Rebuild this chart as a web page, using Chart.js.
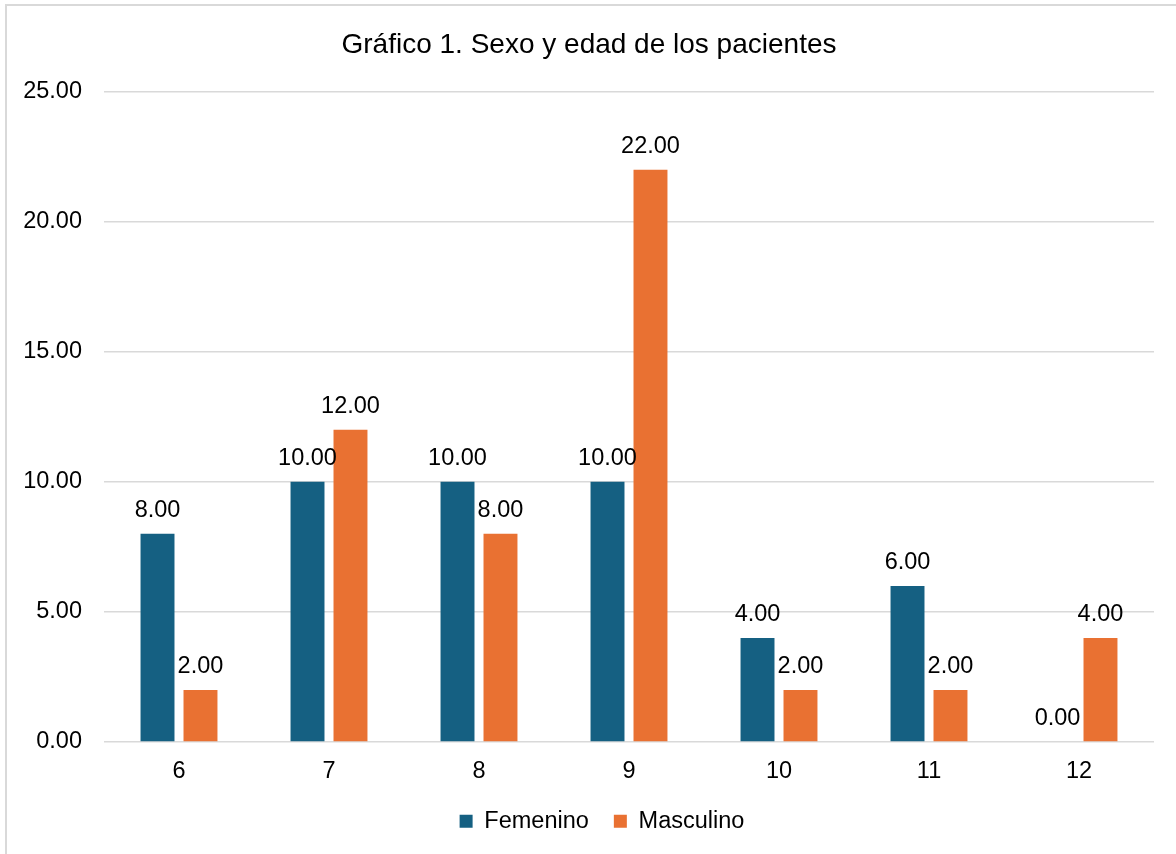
<!DOCTYPE html>
<html lang="es">
<head>
<meta charset="utf-8">
<title>Gráfico 1. Sexo y edad de los pacientes</title>
<script src="https://cdn.jsdelivr.net/npm/chart.js@4.4.1/dist/chart.umd.min.js"></script>
<style>
  html, body { margin: 0; padding: 0; background: #ffffff; overflow: hidden; }
  #frame {
    position: absolute; left: 5px; top: 4px;
    width: 1300px; height: 1000px;
    border: 2px solid #d9d9d9; box-sizing: border-box;
  }
  #wrap { position: absolute; left: 0; top: 0; width: 1176px; height: 854px; }
</style>
</head>
<body>
<div id="frame"></div>
<div id="wrap"><canvas id="chart" width="1176" height="854"></canvas></div>
<script>
// Ages of the patients (x axis)
const categories = ['6', '7', '8', '9', '10', '11', '12'];
// Number of patients by sex for each age
const femenino = [8, 10, 10, 10, 4, 6, 0];
const masculino = [2, 12, 8, 22, 2, 2, 4];
// Value axis range
const yMin = 0;
const yMax = 25;
const yStep = 5;

const FONT = '"Liberation Sans", Arial, Helvetica, sans-serif';
const TEXT = '#000000';
const SIZE = 23.5;

// Writes each bar's value (two decimals) above it
const valueLabels = {
  id: 'valueLabels',
  afterDatasetsDraw(chart) {
    const ctx = chart.ctx;
    ctx.save();
    ctx.font = SIZE + 'px ' + FONT;
    ctx.fillStyle = TEXT;
    ctx.textAlign = 'center';
    ctx.textBaseline = 'middle';
    chart.data.datasets.forEach((ds, i) => {
      const meta = chart.getDatasetMeta(i);
      meta.data.forEach((bar, j) => {
        ctx.fillText(Number(ds.data[j]).toFixed(2), bar.x, bar.y - 23);
      });
    });
    ctx.restore();
  }
};

// Nudges the legend row slightly to the right
const legendNudge = {
  id: 'legendNudge',
  afterLayout(chart) {
    if (chart.legend) {
      chart.legend.left += 13;
      chart.legend.right += 13;
    }
  }
};

new Chart(document.getElementById('chart'), {
  type: 'bar',
  data: {
    labels: categories,
    datasets: [
      {
        label: 'Femenino',
        data: femenino,
        backgroundColor: '#156082',
        categoryPercentage: 0.573,
        barPercentage: 0.79
      },
      {
        label: 'Masculino',
        data: masculino,
        backgroundColor: '#E97132',
        categoryPercentage: 0.573,
        barPercentage: 0.79
      }
    ]
  },
  options: {
    responsive: false,
    animation: false,
    layout: { padding: { left: 24, right: 22, top: 0, bottom: 11 } },
    plugins: {
      title: {
        display: true,
        text: 'Gráfico 1. Sexo y edad de los pacientes',
        color: TEXT,
        font: { family: FONT, size: 28, weight: 'normal' },
        padding: { top: 28, bottom: 30 }
      },
      legend: {
        display: true,
        position: 'bottom',
        labels: {
          color: TEXT,
          font: { family: FONT, size: SIZE },
          boxWidth: 13,
          boxHeight: 13,
          padding: 25
        }
      },
      tooltip: { enabled: false }
    },
    scales: {
      x: {
        afterFit(scale) { scale.height = 42.5; },
        grid: { display: false, drawTicks: false },
        border: { display: false },
        ticks: {
          color: TEXT,
          font: { family: FONT, size: SIZE },
          padding: 15
        }
      },
      y: {
        min: yMin,
        max: yMax,
        afterFit(scale) { scale.width = 80; },
        grid: { color: '#d9d9d9', lineWidth: 1.5, drawTicks: false },
        border: { display: false },
        ticks: {
          stepSize: yStep,
          color: TEXT,
          font: { family: FONT, size: SIZE },
          padding: 22,
          callback: (v) => Number(v).toFixed(2)
        }
      }
    }
  },
  plugins: [valueLabels, legendNudge]
});
</script>
</body>
</html>
